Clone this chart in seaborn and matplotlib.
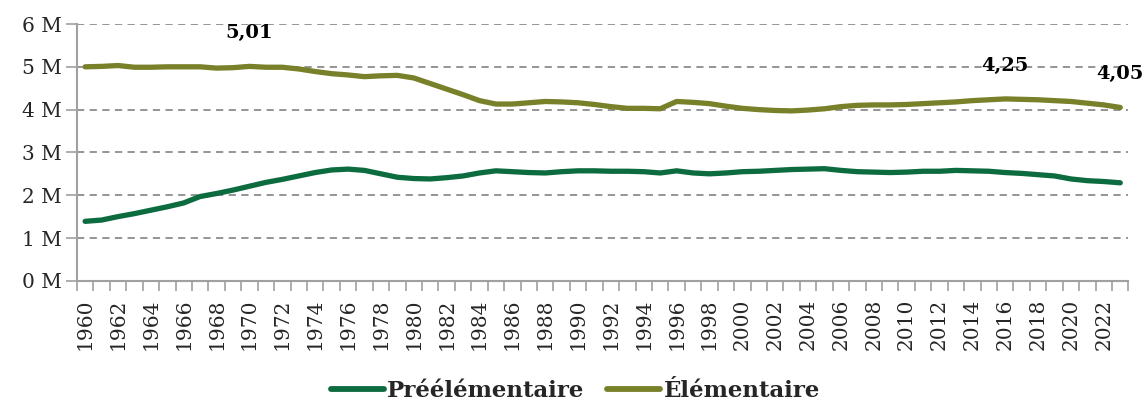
import numpy as np
import pandas as pd
import matplotlib
matplotlib.use("Agg")
import matplotlib.pyplot as plt
from matplotlib.ticker import FixedLocator, FuncFormatter
import seaborn as sns

# données (millions d'élèves)
years = list(range(1960, 2024))
preelementaire = [1.39, 1.42, 1.50, 1.57, 1.65, 1.73, 1.82, 1.97, 2.04, 2.12,
                  2.21, 2.30, 2.37, 2.45, 2.53, 2.59, 2.61, 2.58, 2.50, 2.42,
                  2.39, 2.38, 2.41, 2.45, 2.52, 2.57, 2.55, 2.53, 2.52, 2.55,
                  2.57, 2.57, 2.56, 2.56, 2.55, 2.52, 2.57, 2.52, 2.50, 2.52,
                  2.55, 2.56, 2.58, 2.60, 2.61, 2.62, 2.58, 2.55, 2.54, 2.53,
                  2.54, 2.56, 2.56, 2.58, 2.57, 2.56, 2.53, 2.51, 2.48, 2.45,
                  2.38, 2.34, 2.32, 2.29]
elementaire = [5.00, 5.01, 5.03, 4.99, 4.99, 5.00, 5.00, 5.00, 4.97, 4.98,
               5.01, 4.99, 4.99, 4.95, 4.89, 4.84, 4.81, 4.77, 4.79, 4.80,
               4.74, 4.61, 4.48, 4.35, 4.21, 4.13, 4.13, 4.16, 4.19, 4.18,
               4.16, 4.12, 4.07, 4.03, 4.03, 4.02, 4.19, 4.17, 4.14, 4.08,
               4.03, 4.00, 3.98, 3.97, 3.99, 4.02, 4.07, 4.10, 4.11, 4.11,
               4.12, 4.14, 4.16, 4.18, 4.21, 4.23, 4.25, 4.24, 4.23, 4.21,
               4.19, 4.15, 4.11, 4.05]
label_years = [1970, 2016, 2023]
label_texts = ["5,01", "4,25", "4,05"]

series_names = ["Préélémentaire", "Élémentaire"]
colors = ["#0d6b40", "#78802a"]

df = pd.DataFrame({
    "annee": years * 2,
    "valeur": preelementaire + elementaire,
    "serie": [series_names[0]] * len(years) + [series_names[1]] * len(years),
})

sns.set_theme(style="white")
plt.rcParams["font.family"] = ["DejaVu Serif"]

fig = plt.figure(figsize=(11.48, 4.07), dpi=100)
ax = fig.add_axes([0.067, 0.31, 0.916, 0.631])

sns.lineplot(data=df, x="annee", y="valeur", hue="serie", palette=colors,
             linewidth=3.8, ax=ax, legend=True)
for line in ax.get_lines():
    line.set_solid_capstyle("round")

# étiquettes de données
elem = dict(zip(years, elementaire))
for yr, txt in zip(label_years, label_texts):
    ax.annotate(txt, (yr, elem[yr]), xytext=(0, 24), textcoords="offset points",
                ha="center", va="center", fontsize=14, fontweight="bold",
                color="black", annotation_clip=False)

ax.set_xlim(years[0] - 0.5, years[-1] + 0.5)
ax.set_ylim(0, 6)
ax.set_yticks(range(0, 7))
ax.yaxis.set_major_formatter(FuncFormatter(lambda v, p: f"{int(v)} M"))
ax.yaxis.grid(True, linestyle=(0, (4, 3)), color="#8c8c8c", linewidth=1.3)
ax.set_axisbelow(True)

ax.set_xticks(years[::2])
ax.set_xticklabels([str(y) for y in years[::2]], rotation=90)
ax.xaxis.set_minor_locator(FixedLocator(np.arange(years[0] - 0.5, years[-1] + 1.0, 1)))
ax.tick_params(axis="x", which="major", length=0, pad=13, labelsize=14.5)
ax.tick_params(axis="x", which="minor", length=7, width=1.2, color="#a0a0a0", bottom=True)
ax.tick_params(axis="y", length=8, width=1.2, color="#a0a0a0", labelsize=14.5, pad=3, left=True)

for side in ["top", "right"]:
    ax.spines[side].set_visible(False)
for side in ["left", "bottom"]:
    ax.spines[side].set_color("#a0a0a0")
    ax.spines[side].set_linewidth(1.5)

ax.set_xlabel("")
ax.set_ylabel("")

handles, labels = ax.get_legend_handles_labels()
leg = ax.legend(handles, labels, loc="center", bbox_to_anchor=(0.474, -0.43),
                ncol=2, frameon=False, handlelength=2.3, handletextpad=0.15,
                columnspacing=1.0, borderpad=0.2,
                prop={"weight": "bold", "size": 16.5})
for h in leg.get_lines():
    h.set_linewidth(4.2)
    h.set_solid_capstyle("round")

fig.savefig("out.png", dpi=100)
plt.close(fig)
